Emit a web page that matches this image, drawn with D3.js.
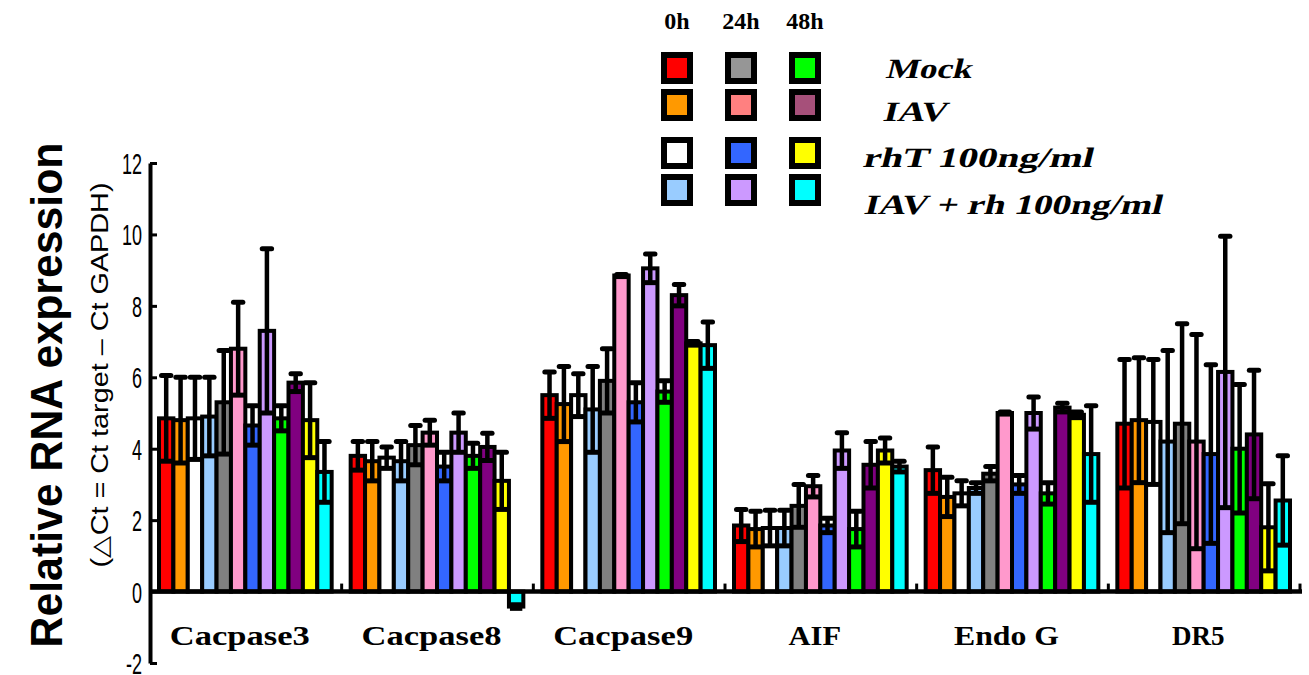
<!DOCTYPE html>
<html>
<head>
<meta charset="utf-8">
<script src="https://cdn.jsdelivr.net/npm/d3@7"></script>
<style>
  body { margin: 0; background: #fff; }
  svg { display: block; }
</style>
</head>
<body>
<svg id="chart" width="1309" height="675"></svg>
<script>
// ---- data -------------------------------------------------------------
const genes = ["Cacpase3", "Cacpase8", "Cacpase9", "AIF", "Endo G", "DR5"];
const times = ["0h", "24h", "48h"];
const treatments = ["Mock", "IAV", "rhT 100ng/ml", "IAV + rh 100ng/ml"];
const yTicks = [-2, 0, 2, 4, 6, 8, 10, 12];

// bar order inside each gene: 0h (Mock, IAV, rhT, IAV+rh), 24h (...), 48h (...)
const cacpase3Mean = [4.85, 4.8, 4.85, 4.9, 5.3, 6.8, 4.65, 7.3, 4.85, 5.85, 4.8, 3.35];
const cacpase3Sd   = [1.2, 1.2, 1.15, 1.1, 1.45, 1.3, 0.55, 2.3, 0.35, 0.25, 1.05, 0.85];
const cacpase8Mean = [3.8, 3.65, 3.75, 3.65, 4.1, 4.45, 3.5, 4.45, 3.8, 4.05, 3.1, -0.42];
const cacpase8Sd   = [0.4, 0.55, 0.3, 0.55, 0.55, 0.35, 0.4, 0.55, 0.35, 0.38, 0.8, 0.05];
const cacpase9Mean = [5.5, 5.25, 5.5, 5.1, 5.9, 8.85, 5.3, 9.05, 5.6, 8.3, 6.95, 6.9];
const cacpase9Sd   = [0.65, 1.05, 0.6, 1.2, 0.9, 0.03, 0.55, 0.4, 0.3, 0.3, 0.05, 0.65];
const aifMean      = [1.85, 1.75, 1.78, 1.78, 2.4, 2.95, 1.85, 3.95, 1.75, 3.55, 3.95, 3.5];
const aifSd        = [0.45, 0.5, 0.5, 0.5, 0.6, 0.3, 0.2, 0.5, 0.5, 0.65, 0.35, 0.15];
const endoGMean    = [3.4, 2.65, 2.75, 2.9, 3.3, 5.0, 3.0, 5.0, 2.75, 5.15, 4.95, 3.85];
const endoGSd      = [0.65, 0.55, 0.35, 0.15, 0.2, 0.03, 0.25, 0.45, 0.3, 0.12, 0.08, 1.35];
const dr5Mean      = [4.7, 4.8, 4.75, 4.2, 4.7, 4.2, 3.85, 6.15, 4.0, 4.4, 1.8, 2.55];
const dr5Sd        = [1.8, 1.75, 1.75, 2.55, 2.8, 3.0, 2.5, 3.8, 1.8, 1.8, 1.22, 1.25];

const means = [cacpase3Mean, cacpase8Mean, cacpase9Mean, aifMean, endoGMean, dr5Mean];
const sds   = [cacpase3Sd, cacpase8Sd, cacpase9Sd, aifSd, endoGSd, dr5Sd];

// ---- styles -----------------------------------------------------------
const barColors = [
  "#FF0000", "#FF9900", "#FFFFFF", "#99CCFF",   // 0h
  "#808080", "#FF99CC", "#3366FF", "#CC99FF",   // 24h
  "#00FF00", "#800080", "#FFFF00", "#00FFFF"    // 48h
];
// legend swatches, rows = treatments, columns = time points
const legendColors = [
  ["#FF0000", "#969696", "#00FF00"],
  ["#FF9900", "#FF8080", "#A6507A"],
  ["#FFFFFF", "#3366FF", "#FFFF00"],
  ["#99CCFF", "#CC99FF", "#00FFFF"]
];

const sans = "'Liberation Sans', Arial, sans-serif";
const serif = "'Liberation Serif', 'Times New Roman', serif";

const svg = d3.select("#chart");

// ---- scales -----------------------------------------------------------
const y = d3.scaleLinear().domain([-2, 12]).range([663, 163]);
const x = d3.scaleBand().domain(genes).range([150, 1300]);
const xi = d3.scaleBand().domain(d3.range(12)).range([9, x.bandwidth() - 10]);
const bw = xi.bandwidth();

const bars = genes.flatMap((g, gi) =>
  means[gi].map((m, i) => ({ gene: g, i, m, sd: sds[gi][i] })));

// ---- bars -------------------------------------------------------------
svg.append("g").selectAll("rect")
  .data(bars)
  .join("rect")
  .attr("x", d => x(d.gene) + xi(d.i))
  .attr("y", d => y(Math.max(0, d.m)))
  .attr("width", bw)
  .attr("height", d => Math.abs(y(d.m) - y(0)))
  .attr("fill", d => barColors[d.i])
  .attr("stroke", "#000")
  .attr("stroke-width", 4);

// ---- error bars -------------------------------------------------------
const err = svg.append("g").attr("stroke", "#000");
const cx = d => x(d.gene) + xi(d.i) + bw / 2;
err.selectAll("line.whisker")
  .data(bars)
  .join("line")
  .attr("class", "whisker")
  .attr("x1", cx).attr("x2", cx)
  .attr("y1", d => y(d.m + d.sd))
  .attr("y2", d => y(d.m - d.sd))
  .attr("stroke-width", 4.5);
err.selectAll("line.capHi")
  .data(bars)
  .join("line")
  .attr("class", "capHi")
  .attr("x1", d => cx(d) - bw / 2 + 2.5)
  .attr("x2", d => cx(d) + bw / 2 - 2.5)
  .attr("y1", d => y(d.m + d.sd))
  .attr("y2", d => y(d.m + d.sd))
  .attr("stroke-width", 5)
  .attr("stroke-linecap", "round");
err.selectAll("line.capLo")
  .data(bars)
  .join("line")
  .attr("class", "capLo")
  .attr("x1", d => cx(d) - bw / 2 + 1)
  .attr("x2", d => cx(d) + bw / 2 - 1)
  .attr("y1", d => y(d.m - d.sd))
  .attr("y2", d => y(d.m - d.sd))
  .attr("stroke-width", 5);

// ---- axes -------------------------------------------------------------
const labelSquash = 0.6;   // condensed tick numerals
const yAxis = svg.append("g")
  .attr("transform", "translate(150,0)")
  .call(d3.axisLeft(y).tickValues(yTicks).tickFormat(d => String(d))
    .tickSizeInner(-7).tickSizeOuter(0).tickPadding(8));
yAxis.select(".domain").attr("stroke-width", 4);
yAxis.selectAll(".tick line").attr("stroke-width", 3);
yAxis.selectAll(".tick text")
  .attr("font-family", sans)
  .attr("font-size", 30)
  .attr("dy", "0.35em")
  .attr("fill", "#000")
  .attr("x", -8 / labelSquash)
  .attr("transform", `scale(${labelSquash},1)`);

// zero line across all groups
svg.append("line")
  .attr("x1", x.range()[0]).attr("x2", x.range()[1] + 2)
  .attr("y1", y(0)).attr("y2", y(0))
  .attr("stroke", "#000").attr("stroke-width", 4.5);

// small separators between gene groups
svg.append("g").selectAll("line")
  .data(genes)
  .join("line")
  .attr("x1", g => x(g) + x.bandwidth()).attr("x2", g => x(g) + x.bandwidth())
  .attr("y1", y(0)).attr("y2", y(0) - 8)
  .attr("stroke", "#000").attr("stroke-width", 3);

// gene labels
svg.append("g").selectAll("text")
  .data(genes)
  .join("text")
  .attr("x", g => x(g) + x.bandwidth() / 2 - 6)
  .attr("y", 645)
  .attr("text-anchor", "middle")
  .attr("font-family", serif)
  .attr("font-weight", "bold")
  .attr("font-size", 27)
  .attr("textLength", g => g.length * 17.5)
  .attr("lengthAdjust", "spacingAndGlyphs")
  .text(g => g);

// y-axis titles
svg.append("text")
  .attr("transform", "translate(62,395) rotate(-90)")
  .attr("text-anchor", "middle")
  .attr("font-family", sans)
  .attr("font-weight", "bold")
  .attr("font-size", 44)
  .attr("textLength", 505)
  .attr("lengthAdjust", "spacingAndGlyphs")
  .text("Relative RNA expression");
svg.append("text")
  .attr("transform", "translate(108,375) rotate(-90)")
  .attr("text-anchor", "middle")
  .attr("font-family", sans)
  .attr("font-size", 23)
  .attr("textLength", 385)
  .attr("lengthAdjust", "spacingAndGlyphs")
  .text("(\u25B3Ct = Ct target \u2013 Ct GAPDH)");

// ---- legend -----------------------------------------------------------
const legX = d3.scalePoint().domain(times).range([677, 805]);
const legRowY = [68, 105, 153, 190];
const legTextX = [885, 882, 862, 863];
const legTextY = [78, 121, 167, 214];
const legTextW = [86, 64, 230, 298];

svg.append("g").selectAll("text")
  .data(times)
  .join("text")
  .attr("x", t => legX(t))
  .attr("y", 29)
  .attr("text-anchor", "middle")
  .attr("font-family", serif)
  .attr("font-weight", "bold")
  .attr("font-size", 24)
  .text(t => t);

const legRows = svg.append("g").selectAll("g")
  .data(treatments)
  .join("g");
legRows.selectAll("rect")
  .data((t, ti) => times.map((tm, k) => ({ tm, c: legendColors[ti][k], row: ti })))
  .join("rect")
  .attr("x", d => legX(d.tm) - 13)
  .attr("y", d => legRowY[d.row] - 13)
  .attr("width", 26).attr("height", 26)
  .attr("fill", d => d.c)
  .attr("stroke", "#000")
  .attr("stroke-width", 6);
// slanted serif labels
legRows.append("text")
  .attr("transform", (t, ti) => `translate(${legTextX[ti]},${legTextY[ti]}) skewX(-14)`)
  .attr("font-family", serif)
  .attr("font-weight", "bold")
  .attr("font-size", 28)
  .attr("textLength", (t, ti) => legTextW[ti])
  .attr("lengthAdjust", "spacingAndGlyphs")
  .text(t => t);
</script>
</body>
</html>
